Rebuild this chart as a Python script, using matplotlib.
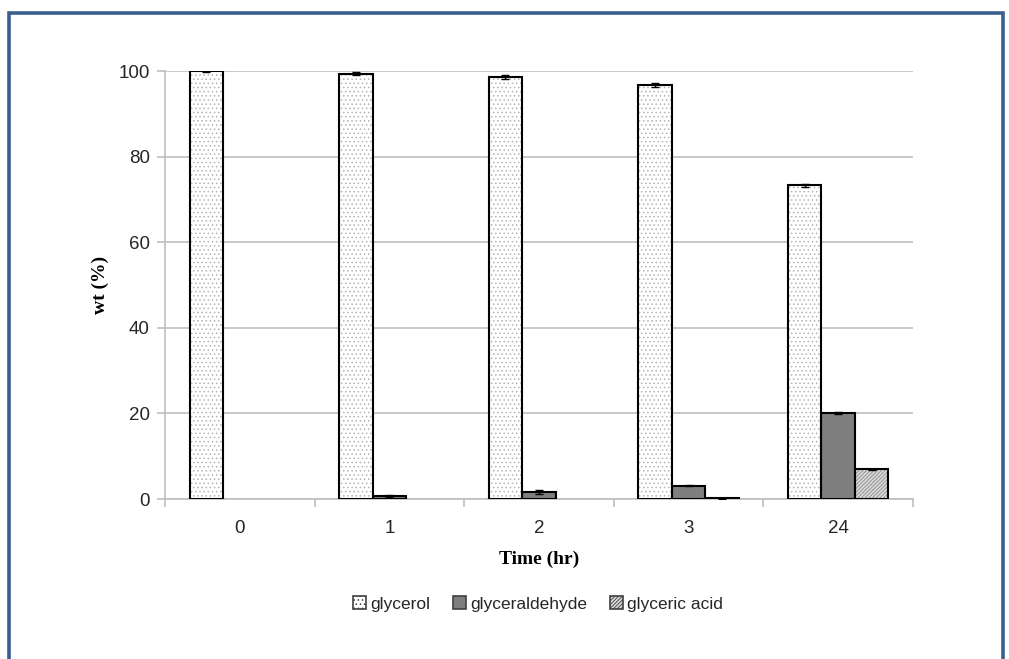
import numpy as np
import matplotlib
matplotlib.use("Agg")
import matplotlib.pyplot as plt
from matplotlib.patches import Rectangle

# data
times = ["0", "1", "2", "3", "24"]
glycerol = [100.0, 99.4, 98.6, 96.8, 73.3]
glycerol_err = [0.2, 0.4, 0.4, 0.5, 0.4]
glyceraldehyde = [0.0, 0.7, 1.6, 3.1, 20.1]
glyceraldehyde_err = [0.0, 0.2, 0.4, 0.1, 0.2]
glyceric = [0.0, 0.0, 0.0, 0.2, 6.9]
glyceric_err = [0.0, 0.0, 0.0, 0.1, 0.1]
series_names = ["glycerol", "glyceraldehyde", "glyceric acid"]

plt.rcParams['font.family'] = ['Liberation Sans', 'DejaVu Sans']
plt.rcParams['hatch.linewidth'] = 0.6

fig = plt.figure(figsize=(10.09, 6.59), dpi=100)
ax = fig.add_axes([165 / 1009, 1 - 499 / 659, (913 - 165) / 1009, (499 - 71) / 659])

x = np.arange(len(times))
w = 0.224
grid_c = "#bfbfbf"


def nz(v):
    # zero values are not drawn in the original
    v = np.array(v, dtype=float)
    return np.where(v == 0, np.nan, v)


styles = [
    (glycerol, glycerol_err, "white", "....", "#b4b4b4"),
    (glyceraldehyde, glyceraldehyde_err, "#7f7f7f", None, None),
    (glyceric, glyceric_err, "#d9d9d9", "/////////", "#8c8c8c"),
]
handles = []
for i, (vals, errs, fc, hatch, hc) in enumerate(styles):
    pos = x + (i - 1) * w
    # fill + hatch layer (hatch takes the edge colour)
    ax.bar(pos, nz(vals), w, color=fc, edgecolor=hc if hc else fc, linewidth=0,
           hatch=hatch, zorder=3)
    # outline layer
    ax.bar(pos, nz(vals), w, fill=False, edgecolor="black", linewidth=1.5,
           yerr=nz(errs), capsize=3, error_kw=dict(elinewidth=1, capthick=1, ecolor="black"),
           zorder=4)
    handles.append(Rectangle((0, 0), 1, 1, facecolor=fc, edgecolor="#404040",
                             linewidth=1.2, hatch=hatch))

ax.set_xlim(-0.5, len(times) - 0.5)
ax.set_ylim(0, 100)
ax.set_yticks(range(0, 101, 20))
ax.yaxis.grid(True, color=grid_c, linewidth=1.2, zorder=0)
ax.set_axisbelow(True)

ax.set_xticks(x)
ax.set_xticklabels(times)
ax.set_xticks(np.arange(-0.5, len(times), 1), minor=True)
ax.tick_params(axis="x", which="major", length=0, pad=15, labelsize=13.5, colors="#262626")
ax.tick_params(axis="x", which="minor", length=6, color=grid_c, width=1.2)
ax.tick_params(axis="y", length=6, color=grid_c, width=1.2, labelsize=13.5,
               colors="#262626", pad=5)

for s in ["top", "right"]:
    ax.spines[s].set_visible(False)
for s in ["left", "bottom"]:
    ax.spines[s].set_color(grid_c)
    ax.spines[s].set_linewidth(1.2)

ax.set_ylabel("wt (%)", fontfamily="Liberation Serif", fontweight="bold", fontsize=14,
              labelpad=7)
ax.set_xlabel("Time (hr)", fontfamily="Liberation Serif", fontweight="bold", fontsize=14,
              labelpad=10)

leg = ax.legend(handles, series_names, loc="center", bbox_to_anchor=(0.499, -0.245),
                ncol=3, frameon=False, fontsize=12.5, handlelength=0.75, handleheight=0.75,
                handletextpad=0.25, columnspacing=1.3)
for t in leg.get_texts():
    t.set_color("#262626")

# blue border of the figure
fig.patches.append(Rectangle((9 / 1009, -0.05), (1003 - 9) / 1009, 1 - 13 / 659 + 0.05,
                             transform=fig.transFigure, fill=False,
                             edgecolor="#3a5f8f", linewidth=2.6))

fig.savefig("out.png", dpi=100)
